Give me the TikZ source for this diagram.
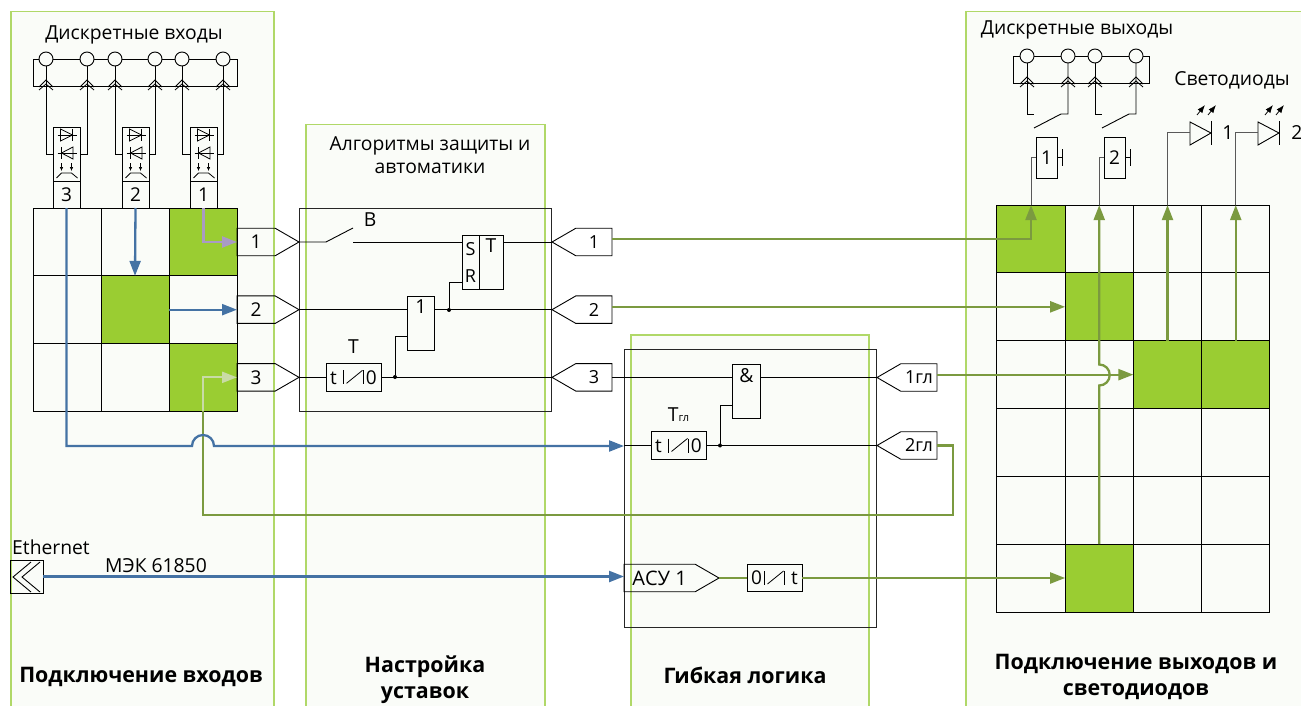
\documentclass[tikz,border=0pt]{standalone}
\usepackage{fontspec}
\setmainfont{Open Sans}
\usepackage{tikz}
\usetikzlibrary{shapes.symbols,arrows.meta,positioning,calc}

\definecolor{panelfill}{HTML}{FAFCF8}
\definecolor{panelline}{HTML}{B0D868}
\definecolor{cellgreen}{HTML}{9ACD32}
\definecolor{wiregreen}{HTML}{7B9A40}
\definecolor{wireblue}{HTML}{4472A4}
\definecolor{wirepurple}{HTML}{A99BC4}
\definecolor{wirepale}{HTML}{C9DBA6}

\tikzset{
    txt/.style={font=\fontsize{19.3}{23}\selectfont, inner sep=0pt, align=center},
    caption/.style={font=\fontsize{21.4}{26}\selectfont\bfseries, inner sep=0pt, align=center},
    panel/.style={rectangle, draw=panelline, line width=1.5pt, fill=panelfill, anchor=north west, inner sep=0pt},
    incell/.style={rectangle, draw, line width=0.9pt, minimum width=68pt, minimum height=67.67pt, inner sep=0pt, outer sep=0pt},
    outcell/.style={rectangle, draw, line width=0.9pt, minimum width=68.25pt, minimum height=67.83pt, inner sep=0pt, outer sep=0pt},
    greencell/.style={fill=cellgreen},
    tagright/.style={signal, signal to=east, signal pointer angle=60, draw, line width=0.9pt, minimum height=27.5pt, minimum width=62pt, inner sep=0pt, outer sep=0pt, font=\fontsize{19}{20}\selectfont},
    tagleft/.style={signal, signal to=west, signal pointer angle=60, draw, line width=0.9pt, minimum height=27.5pt, minimum width=60pt, inner sep=0pt, outer sep=0pt, font=\fontsize{18}{20}\selectfont},
    blockbox/.style={rectangle, draw=black!85, line width=0.9pt, inner sep=0pt, outer sep=0pt},
    gatebox/.style={rectangle, draw, line width=0.9pt, minimum width=27.5pt, minimum height=54pt, inner sep=0pt, outer sep=0pt},
    timerbox/.style={rectangle, draw, line width=0.9pt, minimum width=55pt, minimum height=27.5pt, inner sep=0pt, outer sep=0pt, font=\fontsize{19}{20}\selectfont},
    numbox/.style={rectangle, draw, line width=0.9pt, minimum width=27pt, minimum height=27pt, inner sep=0pt, outer sep=0pt, font=\fontsize{19}{20}\selectfont},
    terminal/.style={circle, draw, line width=0.9pt, fill=panelfill, minimum size=14pt, inner sep=0pt, outer sep=0pt},
    dotnode/.style={circle, fill=black, minimum size=4pt, inner sep=0pt, outer sep=0pt},
    thinline/.style={line width=0.9pt},
    greyline/.style={line width=1pt, draw=black!65},
    greenwire/.style={line width=2.3pt, draw=wiregreen},
    bluewire/.style={line width=2.3pt, draw=wireblue},
    tipblue/.style={-{Triangle[length=15pt,width=11pt]}, wireblue},
    tipgreen/.style={-{Triangle[length=15pt,width=11pt]}, wiregreen},
    chevrons/.pic={
        \draw [line width=0.8pt] (-7,1) -- (0,-6) -- (7,1);
        \draw [line width=0.8pt] (-7,4) -- (0,-2) -- (7,4);
    },
    opto/.pic={
        \draw [line width=0.8pt] (-9,-19) -- (10,-19);
        \draw [line width=0.8pt] (-6,-25) -- (6,-19) -- (-6,-13) -- cycle;
        \draw [line width=0.8pt] (6,-25) -- (6,-13);
        \draw [line width=0.8pt] (-9,-1) -- (10,-1);
        \draw [line width=0.8pt] (6.5,-7) -- (-5,-1) -- (6.5,5) -- cycle;
        \draw [line width=0.8pt] (-5,-7) -- (-5,5);
        \draw [line width=0.6pt, -{Latex[length=4pt,width=3.5pt]}] (-5,9) -- (-5,17);
        \draw [line width=0.6pt, -{Latex[length=4pt,width=3.5pt]}] (5,9) -- (5,17);
        \draw [line width=0.8pt] (-10,24) -- (-5,19) -- (5,19) -- (11,24);
    },
    delaysym/.pic={
        \draw [line width=0.8pt] (-10,-7) -- (-10,7);
        \draw [line width=0.8pt] (10,-7) -- (10,7);
        \draw [line width=0.8pt] (-7,6) -- (9,-7);
    },
    ledsym/.pic={
        \draw [line width=0.9pt] (0,-11) -- (21,0) -- (0,12) -- cycle;
        \draw [line width=0.9pt] (21,-12) -- (21,12);
        \draw [line width=0.8pt, -{Latex[length=8pt,width=6pt]}] (7,-18) -- (15,-28);
        \draw [line width=0.8pt, -{Latex[length=8pt,width=6pt]}] (18,-18) -- (26,-28);
    },
}

\begin{document}
\begin{tikzpicture}[x=1pt, y=-1pt]
    \useasboundingbox (0,0) rectangle (1301,706);

    % Panels
    \node (inpanel) [panel, minimum width=263pt, minimum height=700pt] at (10,11) {};
    \node (setpanel) [panel, minimum width=239pt, minimum height=590pt] at (305,124) {};
    \node (logicpanel) [panel, minimum width=238pt, minimum height=380pt] at (630,334) {};
    \node (outpanel) [panel, minimum width=345pt, minimum height=700pt] at (965,11) {};

    % Titles
    \node (intitle) [txt] at (134,35) {Дискретные входы};
    \node (settitle) [txt] at (430,155) {Алгоритмы защиты и\\автоматики};
    \node (outtitle) [txt] at (1077,30) {Дискретные выходы};
    \node (ledtitle) [txt] at (1232,80) {Светодиоды};

    % Input terminals
    \coordinate (intl) at (33,59);
    \coordinate (intr) at (237,59);
    \coordinate (inbl) at (33,86);
    \coordinate (inbr) at (237,86);
    \draw [thinline] (intl) -- (intr) -- (inbr) -- (inbl) -- cycle;
    \node (c1) [terminal] at (46,59) {};
    \node (c2) [terminal, right=27pt of c1] {};
    \node (c3) [terminal, right=14pt of c2] {};
    \node (c4) [terminal, right=26pt of c3] {};
    \node (c5) [terminal, right=13pt of c4] {};
    \node (c6) [terminal, right=27pt of c5] {};

    % Input modules
    \node (d3) [rectangle, draw, line width=0.9pt, minimum width=27pt, minimum height=54pt, inner sep=0pt, outer sep=0pt] at (66.5,154) {};
    \node (d2) [rectangle, draw, line width=0.9pt, minimum width=27pt, minimum height=54pt, inner sep=0pt, outer sep=0pt, right=42pt of d3] {};
    \node (d1) [rectangle, draw, line width=0.9pt, minimum width=27pt, minimum height=54pt, inner sep=0pt, outer sep=0pt, right=41pt of d2] {};
    \node (d3num) [numbox, below=0pt of d3] {3};
    \node (d2num) [numbox, below=0pt of d2] {2};
    \node (d1num) [numbox, below=0pt of d1] {1};
    \path (d3) pic {opto};
    \path (d2) pic {opto};
    \path (d1) pic {opto};
    \draw [thinline] (c1) |- (d3.west);
    \draw [thinline] (c2) |- (d3.east);
    \draw [thinline] (c3) |- (d2.west);
    \draw [thinline] (c4) |- (d2.east);
    \draw [thinline] (c5) |- (d1.west);
    \draw [thinline] (c6) |- (d1.east);
    \path (c1 |- inbl) pic {chevrons};
    \path (c2 |- inbl) pic {chevrons};
    \path (c3 |- inbl) pic {chevrons};
    \path (c4 |- inbl) pic {chevrons};
    \path (c5 |- inbl) pic {chevrons};
    \path (c6 |- inbl) pic {chevrons};

    % Input matrix
    \node (in11) [incell] at (67,242) {};
    \node (in12) [incell, right=0pt of in11] {};
    \node (in13) [incell, greencell, right=0pt of in12] {};
    \node (in21) [incell, below=0pt of in11] {};
    \node (in22) [incell, greencell, right=0pt of in21] {};
    \node (in23) [incell, right=0pt of in22] {};
    \node (in31) [incell, below=0pt of in21] {};
    \node (in32) [incell, right=0pt of in31] {};
    \node (in33) [incell, greencell, right=0pt of in32] {};

    % Input tags
    \node (intag1) [tagright, right=0pt of in13] {1};
    \node (intag2) [tagright, right=0pt of in23] {2};
    \node (intag3) [tagright, right=0pt of in33] {3};

    % Settings block
    \node (protbox) [blockbox, minimum width=252pt, minimum height=203pt, right=0pt of intag2] {};
    \node (outtag1) [tagleft, right=253pt of intag1] {1};
    \node (outtag2) [tagleft, right=253pt of intag2] {2};
    \node (outtag3) [tagleft, right=253pt of intag3] {3};
    \node (srleft) [rectangle, draw, line width=0.9pt, minimum width=17pt, minimum height=54pt, inner sep=0pt, outer sep=0pt, align=center, font=\fontsize{18}{27}\selectfont] at (470.5,262) {S\\R};
    \node (srright) [rectangle, draw, line width=0.9pt, minimum width=24pt, minimum height=54pt, inner sep=0pt, outer sep=0pt, right=0pt of srleft] {};
    \node (srlabel) [txt, below=4pt of srright.north] {T};
    \node (orgate) [gatebox] at (421,323) {};
    \node (orlabel) [txt, below=4pt of orgate.north] {1};
    \node (deltimer) [timerbox, right=27pt of intag3] {t\hspace{29pt}0};
    \path (deltimer) pic {delaysym};
    \node (tlabel) [txt, above=10pt of deltimer] {T};
    \node (swlabel) [txt] at (370,220) {В};
    \node (srdot) [dotnode] at (449,310) {};
    \node (tdot) [dotnode] at (395,377) {};
    \coordinate (swa) at (326,242);
    \coordinate (swb) at (353,228);
    \coordinate (swc) at (353,242);
    \draw [thinline] (intag1.east) -- (swa) -- (swb);
    \draw [thinline] (swc) -- (srleft.west |- swc);
    \draw [thinline] (srright.east |- outtag1) -- (outtag1.west);
    \draw [thinline] (intag2.east) -- (orgate.west |- intag2);
    \draw [thinline] (orgate.east |- outtag2) -- (outtag2.west);
    \draw [thinline] (srdot) |- ($(srleft.west)+(0,20)$);
    \draw [thinline] (intag3.east) -- (deltimer.west);
    \draw [thinline] (deltimer.east) -- (outtag3.west);
    \draw [thinline] (tdot) |- ($(orgate.west)+(0,13.5)$);

    % Logic block
    \node (logicbox) [blockbox, minimum width=252pt, minimum height=278pt] at (750,488) {};
    \node (andgate) [gatebox] at (746.5,391) {};
    \node (andlabel) [txt, below=4pt of andgate.north] {\&};
    \node (gltimer) [timerbox] at (678.5,445.5) {t\hspace{29pt}0};
    \path (gltimer) pic {delaysym};
    \node (gllabel) [txt, above=10pt of gltimer] {T{\fontsize{11}{11}\selectfont гл}};
    \node (gldot) [dotnode] at (720,445.5) {};
    \node (gltag1) [tagleft, anchor=west] at (877,377.5) {1гл};
    \node (gltag2) [tagleft, anchor=west] at (877,445.5) {2гл};
    \node (asutag) [tagright, minimum width=95pt, anchor=west, font=\fontsize{20}{20}\selectfont] at (624,578) {АСУ 1};
    \node (asutimer) [timerbox, right=28pt of asutag] {0\hspace{29pt}t};
    \path (asutimer) pic {delaysym};
    \draw [thinline] (outtag3.east) -- (andgate.west |- outtag3);
    \draw [thinline] (andgate.east |- gltag1) -- (gltag1.west);
    \draw [thinline] (gltimer.east) -- (gltag2.west);
    \draw [thinline] (logicbox.west |- gltimer) -- (gltimer.west);
    \draw [thinline] (gldot) |- ($(andgate.west)+(0,14)$);

    % Output terminals
    \coordinate (outtl) at (1013,56);
    \coordinate (outtr) at (1149.5,56);
    \coordinate (outbl) at (1013,83);
    \coordinate (outbr) at (1149.5,83);
    \draw [thinline] (outtl) -- (outtr) -- (outbr) -- (outbl) -- cycle;
    \node (k1) [terminal] at (1027,56) {};
    \node (k2) [terminal, right=27pt of k1] {};
    \node (k3) [terminal, right=13pt of k2] {};
    \node (k4) [terminal, right=27pt of k3] {};
    \coordinate (k1end) at (1034,114);
    \coordinate (k2end) at (1061,114);
    \coordinate (k3end) at (1102,114);
    \coordinate (k4end) at (1129,114);
    \coordinate (sw1tip) at (1034,128);
    \coordinate (sw2tip) at (1102,128);
    \draw [thinline] (k1) |- (k1end);
    \draw [thinline] (k2) |- (k2end) -- (sw1tip);
    \draw [thinline] (k3) |- (k3end);
    \draw [thinline] (k4) |- (k4end) -- (sw2tip);
    \path (k1 |- outbl) pic {chevrons};
    \path (k2 |- outbl) pic {chevrons};
    \path (k3 |- outbl) pic {chevrons};
    \path (k4 |- outbl) pic {chevrons};

    % Relays and LEDs
    \node (relay1) [rectangle, draw, line width=0.9pt, minimum width=21pt, minimum height=41pt, inner sep=0pt, outer sep=0pt, font=\fontsize{19}{20}\selectfont] at (1046.5,157.5) {1};
    \node (relay2) [rectangle, draw, line width=0.9pt, minimum width=21pt, minimum height=41pt, inner sep=0pt, outer sep=0pt, font=\fontsize{19}{20}\selectfont, right=47pt of relay1] {2};
    \draw [thinline] (relay1.east) -- ++(5,0) ++(0,-8) -- ++(0,16);
    \draw [thinline] (relay2.east) -- ++(5,0) ++(0,-8) -- ++(0,16);
    \coordinate (led1) at (1190,133);
    \coordinate (led2) at (1258,133);
    \path (led1) pic {ledsym};
    \path (led2) pic {ledsym};
    \node (led1num) [txt] at (1228,133) {1};
    \node (led2num) [txt] at (1297,133) {2};

    % Output matrix
    \node (out11) [outcell, greencell] at (1031,239) {};
    \node (out12) [outcell, right=0pt of out11] {};
    \node (out13) [outcell, right=0pt of out12] {};
    \node (out14) [outcell, right=0pt of out13] {};
    \node (out21) [outcell, below=0pt of out11] {};
    \node (out22) [outcell, greencell, right=0pt of out21] {};
    \node (out23) [outcell, right=0pt of out22] {};
    \node (out24) [outcell, right=0pt of out23] {};
    \node (out31) [outcell, below=0pt of out21] {};
    \node (out32) [outcell, right=0pt of out31] {};
    \node (out33) [outcell, greencell, right=0pt of out32] {};
    \node (out34) [outcell, greencell, right=0pt of out33] {};
    \node (out41) [outcell, below=0pt of out31] {};
    \node (out42) [outcell, right=0pt of out41] {};
    \node (out43) [outcell, right=0pt of out42] {};
    \node (out44) [outcell, right=0pt of out43] {};
    \node (out51) [outcell, below=0pt of out41] {};
    \node (out52) [outcell, right=0pt of out51] {};
    \node (out53) [outcell, right=0pt of out52] {};
    \node (out54) [outcell, right=0pt of out53] {};
    \node (out61) [outcell, below=0pt of out51] {};
    \node (out62) [outcell, greencell, right=0pt of out61] {};
    \node (out63) [outcell, right=0pt of out62] {};
    \node (out64) [outcell, right=0pt of out63] {};

    % Ethernet
    \node (eth) [rectangle, draw, line width=0.9pt, minimum size=33pt, inner sep=0pt, outer sep=0pt] at (26.5,576.5) {};
    \draw [thinline] (31,562) -- (13,577) -- (31,592);
    \draw [thinline] (40,562) -- (22,577) -- (40,592);
    \node (ethlabel) [txt] at (51,547) {Ethernet};
    \node (ieclabel) [txt] at (156,566) {МЭК 61850};

    % Captions
    \node (incap) [caption] at (141,677) {Подключение входов};
    \node (setcap) [caption] at (425,680) {Настройка\\уставок};
    \node (logiccap) [caption] at (745,675) {Гибкая логика};
    \node (outcap) [caption] at (1136,677) {Подключение выходов и\\светодиодов};

    % Arrows
    \draw [line width=2.3pt, wirepurple, -{Triangle[length=15pt,width=11pt]}] (d1num.south) |- (intag1.west);
    \draw [bluewire, tipblue] (d2num.south) -- (in22.north);
    \draw [bluewire, tipblue] (in22.east) -- (intag2.west);
    \coordinate (hopin) at (192,446);
    \coordinate (retright) at (953,515);
    \draw [greenwire] (gltag2.east) -| (retright) -- (in33.south |- retright) -- (in33.south);
    \draw [line width=2.3pt, wirepale, -{Triangle[length=15pt,width=11pt]}] (in33.south) |- (intag3.west);
    \draw [bluewire, tipblue] (d3num.south) |- (hopin) arc[start angle=180, end angle=360, radius=11] -- (logicbox.west |- hopin);
    \draw [bluewire, tipblue] (eth.east) -- (asutag.west |- eth);
    \draw [greenwire] (asutag.east) -- (asutimer.west);
    \draw [greenwire, tipgreen] (asutimer.east) -- (out62.west |- asutimer);
    \draw [greenwire, tipgreen] (outtag1.east |- out11) -| (out11.north);
    \draw [greenwire, tipgreen] (outtag2.east |- out22) -- (out22.west);
    \draw [greenwire, tipgreen] (gltag1.east |- out33) -- (out33.west);
    \coordinate (hopout) at (out62.north |- 0,385.5);
    \draw [greenwire, tipgreen] (out62.north) -- (hopout) arc[start angle=90, end angle=-90, radius=10.5] -- (out12.north);
    \draw [greenwire, tipgreen] (out33.north) -- (out13.north);
    \draw [greenwire, tipgreen] (out34.north) -- (out14.north);
    \draw [greyline] (out11.north) |- (relay1.west);
    \draw [greyline] (out12.north) |- (relay2.west);
    \draw [greyline] (out13.north) |- (led1);
    \draw [greyline] (out14.north) |- (led2);
\end{tikzpicture}
\end{document}
